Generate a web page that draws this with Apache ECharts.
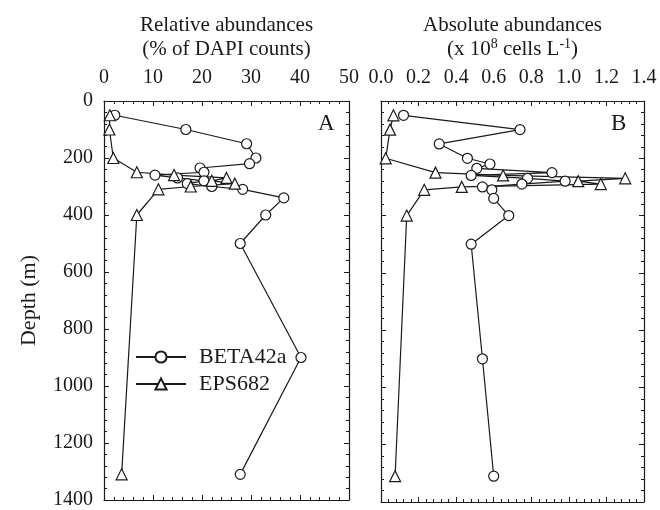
<!DOCTYPE html>
<html>
<head>
<meta charset="utf-8">
<script src="https://cdn.jsdelivr.net/npm/echarts@6/dist/echarts.min.js"></script>
<style>
  html, body { margin: 0; padding: 0; background: #fff; }
  #chart { width: 660px; height: 510px; }
</style>
</head>
<body>
<div id="chart"></div>
<script>
// sampling depths (m)
var depthBeta = [50, 100, 150, 200, 220, 235, 250, 260, 270, 280, 290, 300, 310, 340, 400, 500, 900, 1310]
var depthEps = [50, 100, 200, 250, 260, 270, 280, 290, 300, 310, 400, 1310]

// A: relative abundances (% of DAPI counts)
var betaRel = [2.2, 16.7, 29.1, 31.0, 29.7, 19.6, 20.4, 10.4, 15.0, 20.4, 17.0, 22.0, 28.3, 36.7, 33.0, 27.8, 40.2, 27.8]
var epsRel = [1.2, 1.1, 1.9, 6.7, 14.3, 25.0, 22.0, 26.7, 17.7, 11.1, 6.7, 3.6]

// B: absolute abundances (x 10^8 cells/L)
var betaAbs = [0.12, 0.74, 0.31, 0.46, 0.58, 0.51, 0.91, 0.48, 0.78, 0.98, 0.75, 0.54, 0.59, 0.60, 0.68, 0.48, 0.54, 0.60]
var epsAbs = [0.066, 0.048, 0.025, 0.29, 0.65, 1.30, 1.05, 1.17, 0.43, 0.23, 0.137, 0.075]

var FONT = 'Liberation Serif'
var INK = '#1a1a1a'

function pairs(xs, ys) {
  return xs.map(function (x, i) { return [x, ys[i]] })
}

// plain frame line of the box (carries labels / names where needed)
function frameAxis(extra) {
  var base = {
    type: 'value',
    axisLine: { show: true, onZero: false, lineStyle: { color: INK, width: 1.2 } },
    axisTick: { show: false },
    minorTick: { show: false },
    splitLine: { show: false },
    axisLabel: { show: false },
    nameTextStyle: { color: INK, fontFamily: FONT, fontSize: 21 }
  }
  return Object.assign(base, extra)
}

// inward ticks: outward ticks on an axis shifted into the plot by their own length
function tickAxes(extra) {
  var major = Object.assign({
    type: 'value',
    offset: -5,
    axisLine: { show: false, onZero: false },
    axisTick: { show: true, inside: false, length: 5, lineStyle: { color: INK } },
    minorTick: { show: false },
    splitLine: { show: false },
    axisLabel: { show: false }
  }, extra)
  var minor = Object.assign({
    type: 'value',
    offset: -3,
    axisLine: { show: false, onZero: false },
    axisTick: { show: true, inside: false, length: 3, lineStyle: { color: INK } },
    minorTick: { show: true, splitNumber: 5, length: 3, lineStyle: { color: INK } },
    splitLine: { show: false },
    axisLabel: { show: false }
  }, extra)
  return [major, minor]
}

var labelStyle = { show: true, color: INK, fontFamily: FONT, fontSize: 20, margin: 13 }

var rich = {
  t: { fontFamily: FONT, fontSize: 21, color: INK, lineHeight: 24 },
  s: { fontFamily: FONT, fontSize: 14, color: INK, lineHeight: 14, verticalAlign: 'top' }
}

var xA = { min: 0, max: 50, interval: 10 }
var xB = { min: 0, max: 1.4, interval: 0.2 }
var yDepth = { inverse: true, min: 0, max: 1400, interval: 200 }

function opt(a, b) { return Object.assign({}, a, b) }

var xAxes = [].concat(
  frameAxis(opt(xA, {
    gridIndex: 0, position: 'top',
    axisLabel: labelStyle,
    name: '{t|Relative abundances}\n{t|(% of DAPI counts)}',
    nameLocation: 'middle', nameGap: 40,
    nameTextStyle: { rich: rich }
  })),
  frameAxis(opt(xA, { gridIndex: 0, position: 'bottom' })),
  tickAxes(opt(xA, { gridIndex: 0, position: 'top' })),
  tickAxes(opt(xA, { gridIndex: 0, position: 'bottom' })),
  frameAxis(opt(xB, {
    gridIndex: 1, position: 'top',
    axisLabel: Object.assign({}, labelStyle, { formatter: function (v) { return v.toFixed(1) } }),
    name: '{t|Absolute abundances}\n{t|(x 10}{s|8}{t| cells L}{s|-1}{t|)}',
    nameLocation: 'middle', nameGap: 40,
    nameTextStyle: { rich: rich }
  })),
  frameAxis(opt(xB, { gridIndex: 1, position: 'bottom' })),
  tickAxes(opt(xB, { gridIndex: 1, position: 'top' })),
  tickAxes(opt(xB, { gridIndex: 1, position: 'bottom' }))
)

var yAxes = [].concat(
  frameAxis(opt(yDepth, {
    gridIndex: 0, position: 'left',
    axisLabel: Object.assign({}, labelStyle, { margin: 11, formatter: function (v) { return String(v) } }),
    name: 'Depth (m)', nameLocation: 'middle', nameGap: 64, nameRotate: 90,
    nameTextStyle: { color: INK, fontFamily: FONT, fontSize: 22 }
  })),
  frameAxis(opt(yDepth, { gridIndex: 0, position: 'right' })),
  tickAxes(opt(yDepth, { gridIndex: 0, position: 'left' })),
  tickAxes(opt(yDepth, { gridIndex: 0, position: 'right' })),
  frameAxis(opt(yDepth, { gridIndex: 1, position: 'left' })),
  frameAxis(opt(yDepth, { gridIndex: 1, position: 'right' })),
  tickAxes(opt(yDepth, { gridIndex: 1, position: 'left' })),
  tickAxes(opt(yDepth, { gridIndex: 1, position: 'right' }))
)

// index of the first (labelled) axis of panel B
var bIndex = 6

var chart = echarts.init(document.getElementById('chart'), null, { renderer: 'canvas' })

chart.setOption({
  animation: false,
  backgroundColor: '#fff',
  grid: [
    { left: 104, top: 101, width: 245, height: 401 },
    { left: 381, top: 101, width: 263, height: 401 }
  ],
  legend: {
    orient: 'vertical',
    left: 135,
    top: 346,
    padding: 0,
    itemWidth: 50,
    itemHeight: 14,
    itemGap: 5,
    data: ['BETA42a', 'EPS682'],
    textStyle: { color: INK, fontFamily: FONT, fontSize: 22, padding: [0, 0, 0, 8] }
  },
  xAxis: xAxes,
  yAxis: yAxes,
  graphic: [
    { type: 'text', left: 318, top: 112, style: { text: 'A', font: '23px "Liberation Serif"', fill: INK } },
    { type: 'text', left: 611, top: 112, style: { text: 'B', font: '23px "Liberation Serif"', fill: INK } }
  ],
  series: [
    {
      name: 'BETA42a', type: 'line', xAxisIndex: 0, yAxisIndex: 0,
      data: pairs(betaRel, depthBeta),
      symbol: 'circle', symbolSize: 10,
      lineStyle: { color: INK, width: 1.2 },
      itemStyle: { color: '#fff', borderColor: INK, borderWidth: 1.2 }
    },
    {
      name: 'EPS682', type: 'line', xAxisIndex: 0, yAxisIndex: 0,
      data: pairs(epsRel, depthEps),
      symbol: 'triangle', symbolSize: 11,
      lineStyle: { color: INK, width: 1.2 },
      itemStyle: { color: '#fff', borderColor: INK, borderWidth: 1.2 }
    },
    {
      name: 'BETA42a', type: 'line', xAxisIndex: bIndex, yAxisIndex: bIndex,
      data: pairs(betaAbs, depthBeta),
      symbol: 'circle', symbolSize: 10,
      lineStyle: { color: INK, width: 1.2 },
      itemStyle: { color: '#fff', borderColor: INK, borderWidth: 1.2 }
    },
    {
      name: 'EPS682', type: 'line', xAxisIndex: bIndex, yAxisIndex: bIndex,
      data: pairs(epsAbs, depthEps),
      symbol: 'triangle', symbolSize: 11,
      lineStyle: { color: INK, width: 1.2 },
      itemStyle: { color: '#fff', borderColor: INK, borderWidth: 1.2 }
    }
  ]
})
</script>
</body>
</html>
